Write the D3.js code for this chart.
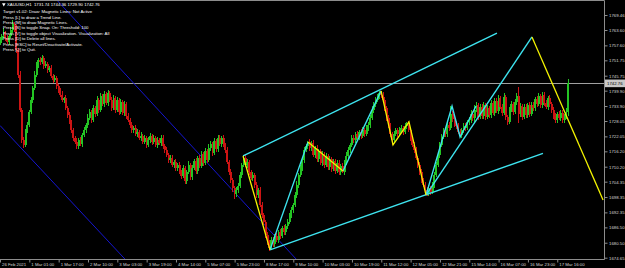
<!DOCTYPE html>
<html><head><meta charset="utf-8">
<script src="https://cdn.jsdelivr.net/npm/d3@7"></script>
<style>
html,body{margin:0;padding:0;background:#000;}
svg{display:block;font-family:"Liberation Sans",Arial,sans-serif;}
</style></head><body><div id="chart"></div>
<script>
// XAUUSD H1, one value per hourly bar
const firstOpen = 1758.6;
const closes = [
1759.7,1761.3,1762.8,1760.5,1758.9,1761.3,1763.6,1765.9,1764.4,1755.8,
1746.0,1732.4,1720.6,1718.7,1724.5,1726.5,1731.6,1736.3,1740.9,1746.0,
1749.9,1751.9,1751.1,1752.7,1749.5,1750.3,1748.0,1748.8,1745.6,1744.1,
1744.9,1741.7,1740.2,1738.2,1736.3,1737.0,1733.1,1730.4,1727.7,1724.5,
1721.4,1719.9,1718.3,1720.6,1719.1,1722.6,1724.5,1726.5,1729.2,1731.6,
1728.4,1733.1,1730.8,1736.3,1732.4,1737.8,1734.7,1738.6,1735.1,1739.0,
1736.3,1733.1,1737.0,1732.4,1736.3,1731.6,1735.5,1731.2,1734.7,1730.0,
1728.4,1726.5,1724.5,1725.3,1723.0,1723.8,1721.4,1722.2,1719.9,1721.4,
1718.7,1720.6,1722.2,1719.9,1721.4,1718.7,1720.6,1719.5,1721.4,1718.3,
1716.7,1714.8,1712.8,1713.6,1710.9,1712.0,1709.7,1710.9,1708.1,1706.6,
1709.7,1704.6,1708.1,1710.9,1706.2,1709.7,1712.4,1708.5,1713.6,1710.5,
1715.2,1711.6,1716.3,1712.8,1717.5,1719.1,1715.5,1720.2,1717.1,1721.4,
1719.1,1721.4,1718.7,1716.7,1712.0,1708.1,1705.0,1701.9,1699.5,1701.1,
1702.7,1707.0,1710.9,1713.6,1710.9,1712.0,1708.1,1705.8,1707.0,1703.1,
1699.1,1701.1,1695.2,1691.3,1688.6,1683.5,1680.8,1678.4,1681.6,1680.0,
1683.1,1681.6,1684.7,1683.1,1686.2,1684.7,1687.0,1688.6,1691.3,1693.3,
1695.2,1699.1,1703.1,1707.0,1709.7,1712.8,1716.7,1718.3,1719.9,1717.5,
1719.5,1714.8,1717.5,1713.2,1716.3,1711.6,1715.2,1710.9,1714.4,1710.1,
1713.2,1709.3,1712.4,1708.5,1711.6,1708.1,1710.5,1708.1,1711.6,1714.4,
1716.7,1718.7,1721.4,1720.6,1723.0,1721.8,1723.8,1722.2,1724.5,1723.0,
1725.3,1726.5,1729.2,1732.4,1734.7,1736.3,1737.8,1739.0,1738.2,1736.3,
1733.1,1729.2,1726.1,1723.0,1720.6,1723.0,1724.5,1723.0,1724.5,1725.3,
1723.8,1726.1,1726.9,1724.5,1721.4,1718.7,1716.7,1713.6,1710.9,1708.1,
1705.0,1703.1,1701.1,1699.9,1701.9,1700.3,1703.1,1707.0,1710.9,1714.8,
1718.7,1721.8,1724.5,1723.0,1726.5,1725.3,1730.8,1728.8,1726.9,1726.1,
1723.8,1722.6,1724.5,1726.1,1725.3,1727.7,1728.4,1730.8,1729.2,1732.4,
1734.3,1729.6,1733.5,1730.0,1734.3,1729.6,1733.1,1730.4,1735.1,1731.2,
1735.9,1732.0,1737.0,1733.5,1731.2,1737.4,1729.6,1727.7,1732.4,1734.7,
1731.6,1735.5,1737.8,1730.8,1733.9,1729.6,1733.5,1730.4,1734.3,1730.8,
1734.3,1733.1,1736.6,1734.7,1737.8,1734.3,1738.2,1735.1,1733.5,1737.0,
1734.7,1732.4,1730.0,1728.4,1730.8,1729.2,1731.2,1728.4,1730.0,1731.74,
1742.76];
const upWick = [
1.2,0.8,1.5,0.6,1.0,0.9,1.3,1.6,0.7,1.1, 0.9,1.4,0.8,1.2,0.6,1.0,0.7,1.3,0.9,1.5,
1.1,0.8,1.2,1.0,0.7,1.3,0.9,0.6,1.1,0.8, 1.2,0.7,1.0,0.9,1.4,0.6,1.1,0.8,1.3,0.7,
1.0,0.9,1.5,0.8,1.2,0.7,1.1,0.9,1.4,1.0, 0.8,1.2,0.9,1.6,0.7,1.1,0.8,1.3,0.9,1.2,
0.7,1.0,1.4,0.8,1.1,0.9,1.2,0.7,1.0,0.8, 1.3,0.9,1.1,0.7,1.2,1.0,0.8,1.4,0.9,1.1,
0.8,1.2,1.0,0.7,1.3,0.9,1.1,0.8,1.2,1.0, 0.9,1.1,0.7,1.3,1.0,0.8,1.2,0.9,1.1,0.7,
1.2,0.9,1.0,1.4,0.8,1.1,0.9,1.3,0.7,1.0, 1.1,0.8,1.2,0.9,1.4,1.0,0.7,1.2,0.9,1.1,
1.3,0.8,1.0,0.9,1.2,0.7,1.1,0.9,0.8,1.3, 1.0,1.2,0.9,0.8,1.1,1.3,0.8,1.0,1.2,0.9,
1.1,0.8,1.0,1.2,0.7,0.9,1.1,0.8,1.3,1.0, 0.9,1.2,0.8,1.1,1.0,1.3,0.7,1.2,0.9,1.1,
1.0,1.2,1.4,0.9,1.1,1.3,1.0,0.8,0.3,1.2, 0.9,1.1,0.8,1.2,1.0,0.7,1.3,0.9,1.1,0.8,
1.2,0.9,1.0,0.8,1.1,1.3,0.7,1.0,1.2,1.4, 1.1,0.9,1.3,1.0,0.8,1.2,0.9,1.1,1.3,0.8,
1.0,1.2,1.1,1.4,0.9,1.0,0.8,0.8,0.9,1.1, 1.3,0.9,1.0,1.2,0.8,1.1,1.0,0.9,1.2,1.0,
0.8,1.1,0.8,1.2,1.0,0.9,1.1,1.3,0.8,1.0, 1.2,0.9,1.1,1.0,1.3,0.8,1.2,1.0,1.1,1.3,
1.0,1.2,0.9,1.1,1.3,1.0,3.1,1.2,0.9,1.1, 1.0,1.3,0.8,1.1,1.2,0.9,1.1,1.4,1.0,1.9,
1.2,0.9,1.1,1.0,1.3,0.8,1.2,1.0,1.1,0.9, 1.3,1.0,1.2,0.9,1.1,1.4,1.0,0.8,1.2,1.1,
0.9,1.2,1.0,3.5,1.1,0.8,1.2,1.0,0.9,1.3, 1.0,1.1,0.9,1.2,1.3,0.8,1.1,1.0,1.2,0.9,
1.1,0.8,1.2,1.0,0.9,1.3,1.0,1.1,0.8,1.2, 1.6];
const dnWick = [
1.0,1.3,0.7,1.1,0.9,1.2,0.8,1.0,1.4,1.1, 1.3,1.0,1.2,1.2,0.8,1.1,0.9,1.0,1.3,0.7,
0.9,1.2,1.0,0.8,1.1,0.7,1.3,1.0,0.9,1.2, 0.8,1.1,1.3,0.9,1.0,1.2,0.8,1.1,0.9,1.3,
1.1,0.8,1.2,1.0,0.9,1.3,0.8,1.1,1.0,0.7, 1.2,0.9,1.1,0.8,1.3,1.0,0.9,1.2,0.8,1.1,
1.0,1.2,0.9,1.1,0.8,1.3,1.0,0.9,1.2,1.0, 0.9,1.1,1.3,1.0,0.8,1.2,0.9,1.1,1.0,0.8,
1.2,0.9,1.1,1.3,0.8,1.0,1.2,0.9,1.1,1.0, 1.1,0.8,1.2,1.0,0.9,1.3,1.0,1.1,0.8,1.2,
0.9,1.3,1.0,0.8,1.2,1.1,0.9,1.0,1.3,0.8, 1.0,1.2,0.9,1.1,0.8,1.3,1.0,0.9,1.2,1.0,
0.8,1.1,1.0,1.2,0.9,1.3,1.1,1.4,2.0,1.0, 1.2,0.9,1.1,1.0,0.8,1.2,1.0,0.9,1.3,1.1,
1.0,1.2,0.9,1.1,1.3,1.0,1.2,1.1,0.9,1.2, 1.1,0.9,1.2,1.0,0.8,1.3,1.0,1.1,0.9,1.2,
1.0,0.8,1.1,1.2,0.9,1.0,1.3,0.8,1.1,1.0, 1.2,0.9,1.1,1.0,1.3,0.8,1.0,1.2,0.9,1.1,
1.0,1.3,0.8,1.1,0.9,1.2,1.0,0.3,1.1,0.9, 1.2,1.0,0.8,1.1,1.3,0.9,1.0,1.2,0.8,1.1,
0.9,1.2,1.0,0.8,1.1,1.3,0.9,1.0,1.2,1.1, 1.0,1.2,0.9,1.1,1.9,1.0,0.8,1.2,1.0,0.9,
1.1,1.0,1.2,0.9,1.3,1.0,1.1,0.8,1.2,1.0, 1.1,0.9,1.2,1.1,1.0,1.3,0.8,1.1,1.0,0.9,
1.2,1.0,0.9,1.1,1.3,1.0,0.8,1.2,1.0,1.1, 0.9,0.8,1.1,1.0,1.2,0.9,1.3,1.0,1.1,2.0,
1.0,1.2,0.9,1.1,1.0,1.3,0.8,1.1,1.2,0.9, 1.1,1.0,1.3,0.9,1.2,1.0,1.1,1.4,0.9,1.0,
1.2,0.9,1.1,3.5,1.0,1.2,0.9,1.1,1.0,1.3, 0.9,1.1,1.0,1.2,0.8,1.1,1.3,1.0,0.9,1.2,
1.0,1.1,1.3,1.2,1.0,0.9,1.1,1.3,1.0,1.2, 1.84];

const priceTicks = [1769.46,1763.60,1757.60,1751.75,1745.75,1739.90,1733.90,1728.05,
  1722.05,1716.20,1710.20,1704.35,1698.35,1692.35,1686.50,1680.50,1674.65];
const timeLabels = ["26 Feb 2021","1 Mar 01:00","1 Mar 17:00","2 Mar 10:00","3 Mar 03:00",
  "3 Mar 19:00","4 Mar 14:00","5 Mar 07:00","5 Mar 23:00","8 Mar 17:00","9 Mar 10:00",
  "10 Mar 03:00","10 Mar 19:00","11 Mar 12:00","12 Mar 05:00","12 Mar 21:00",
  "15 Mar 14:00","16 Mar 07:00","16 Mar 23:00","17 Mar 16:00"];
const barsPerLabel = 16;
const lastPrice = 1742.76;
const header = "XAUUSD,H1  1731.74 1744.36 1729.90 1742.76";
const helpLines = [
  "Target v1.02: Draw: Magnetic Lines: Not Active",
  "Press [L] to draw a Trend Line.",
  "Press [M] to draw Magnetic Lines.",
  "Press [S] to toggle Snap. On: Threshold: 100",
  "Press [V] to toggle object Visualization. Visualization: All",
  "Press [D] to Delete all lines.",
  "Press [ESC] to Reset/Deactivate/Activate.",
  "Press [Q] to Quit."
];
// drawn objects, vertices as [bar index, price]
const blueLines = [
  [[31,1775.3],[163,1673.0]],
  [[0,1726.3],[68.7,1673.7]]
];
const cyanLines = [
  [[132.6,1714.4],[271.1,1762.4]],
  [[147.3,1677.7],[296.2,1715.4]],
  [[147.3,1677.7],[168.0,1719.8]],
  [[187.1,1708.5],[207.9,1739.8]],
  [[232.4,1699.1],[246.6,1733.9],[251.0,1721.8],[259.7,1733.9]],
  [[232.4,1699.1],[290.2,1760.9]]
];
const yellowLines = [
  [[132.6,1714.4],[147.3,1677.7]],
  [[168.0,1719.8],[187.1,1708.5]],
  [[207.9,1739.8],[214.4,1718.7],[223.1,1727.7],[232.4,1699.1]],
  [[290.2,1760.9],[329.0,1697.2]]
];

var W=625, H=268, pr=604, pb=259;
var fs=4.3, txt='#d8d8d8', grid='#8c8c8c';

var svg=d3.select('#chart').append('svg').attr('width',W).attr('height',H)
  .style('background','#000');

var x=d3.scaleLinear().domain([0,329.5]).range([0,pr]);
var y=d3.scaleLinear().domain([1674.65,1769.46]).range([257.7,15]);

var bars=closes.map(function(c,i){
  var o=i?closes[i-1]:firstOpen;
  return {i:i,o:o,c:c,h:Math.max(o,c)+upWick[i],l:Math.min(o,c)-dnWick[i]};
});

svg.append('clipPath').attr('id','plot').append('rect')
  .attr('x',0).attr('y',0).attr('width',pr).attr('height',pb);
var plot=svg.append('g').attr('clip-path','url(#plot)');

// current price line
plot.append('line').attr('x1',0).attr('x2',pr)
  .attr('y1',Math.round(y(lastPrice))+0.5).attr('y2',Math.round(y(lastPrice))+0.5)
  .style('stroke','#a0a0a0').style('stroke-width',1);

var line=d3.line().x(function(d){return x(d[0]);}).y(function(d){return y(d[1]);});
plot.selectAll('.blue').data(blueLines).enter().append('path')
  .attr('class','blue').attr('d',line)
  .style('fill','none').style('stroke','#1515d0').style('stroke-width',1);

var col=function(d){return d.c>=d.o?'#24c424':'#cc1414';};
var candle=plot.selectAll('.bar').data(bars).enter().append('g').attr('class','bar')
  .style('shape-rendering','crispEdges');
candle.append('rect')
  .attr('x',function(d){return x(d.i)-0.5;}).attr('width',1)
  .attr('y',function(d){return y(d.h);})
  .attr('height',function(d){return y(d.l)-y(d.h);})
  .style('fill',col);
candle.append('rect')
  .attr('x',function(d){return x(d.i)-1;}).attr('width',2)
  .attr('y',function(d){return y(Math.max(d.o,d.c));})
  .attr('height',function(d){return Math.max(1,y(Math.min(d.o,d.c))-y(Math.max(d.o,d.c)));})
  .style('fill',col);

plot.selectAll('.cyan').data(cyanLines).enter().append('path')
  .attr('class','cyan').attr('d',line)
  .style('fill','none').style('stroke','#3ee4f0').style('stroke-width',1.4);
plot.selectAll('.yellow').data(yellowLines).enter().append('path')
  .attr('class','yellow').attr('d',line)
  .style('fill','none').style('stroke','#f4f400').style('stroke-width',1.3);

// frame
svg.append('path').attr('d','M0,0.5H'+(pr+0.5)+'V'+(pb+0.5)+'H0')
  .style('fill','none').style('stroke',grid).style('stroke-width',1);

// price axis
var ya=svg.append('g').attr('transform','translate('+(pr+0.5)+',0)')
  .call(d3.axisRight(y).tickValues(priceTicks).tickSize(3).tickPadding(1.5)
    .tickFormat(d3.format('.2f')));
ya.select('.domain').remove();
ya.selectAll('line').style('stroke',grid);
ya.selectAll('text').style('fill',txt).style('font-size',fs+'px')
  .style('font-family','"Liberation Sans",Arial,sans-serif');

// current price box
var py=y(lastPrice);
svg.append('rect').attr('x',pr+1).attr('y',py-3.8).attr('width',W-pr-1).attr('height',7.6)
  .style('fill','#c8c8c8');
svg.append('text').attr('x',pr+3).attr('y',py+1.5).text(d3.format('.2f')(lastPrice))
  .style('fill','#000').style('font-size',fs+'px');

// time axis
var tv=timeLabels.map(function(t,i){return i*barsPerLabel;});
var xa=svg.append('g').attr('transform','translate(0,'+(pb+0.5)+')')
  .call(d3.axisBottom(x).tickValues(tv).tickSize(3).tickPadding(0.5)
    .tickFormat(function(d,i){return timeLabels[i];}));
xa.select('.domain').remove();
xa.selectAll('line').style('stroke',grid);
xa.selectAll('text').style('fill',txt).style('font-size',fs+'px')
  .style('font-family','"Liberation Sans",Arial,sans-serif')
  .attr('text-anchor','start').attr('x',1.5);

// header and help text
svg.append('path').attr('d','M2,3.2L5.6,3.2L3.8,6.4Z').style('fill','#fff');
svg.append('text').attr('x',7).attr('y',6.3).text(header)
  .style('fill','#fff').style('font-size',fs+'px').attr('xml:space','preserve')
  .style('white-space','pre');
svg.selectAll('.help').data(helpLines).enter().append('text').attr('class','help')
  .attr('x',3).attr('y',function(d,i){return 13.2+i*5.4;})
  .text(function(d){return d;})
  .style('fill','#fff').style('font-size',fs+'px');
</script></body></html>
